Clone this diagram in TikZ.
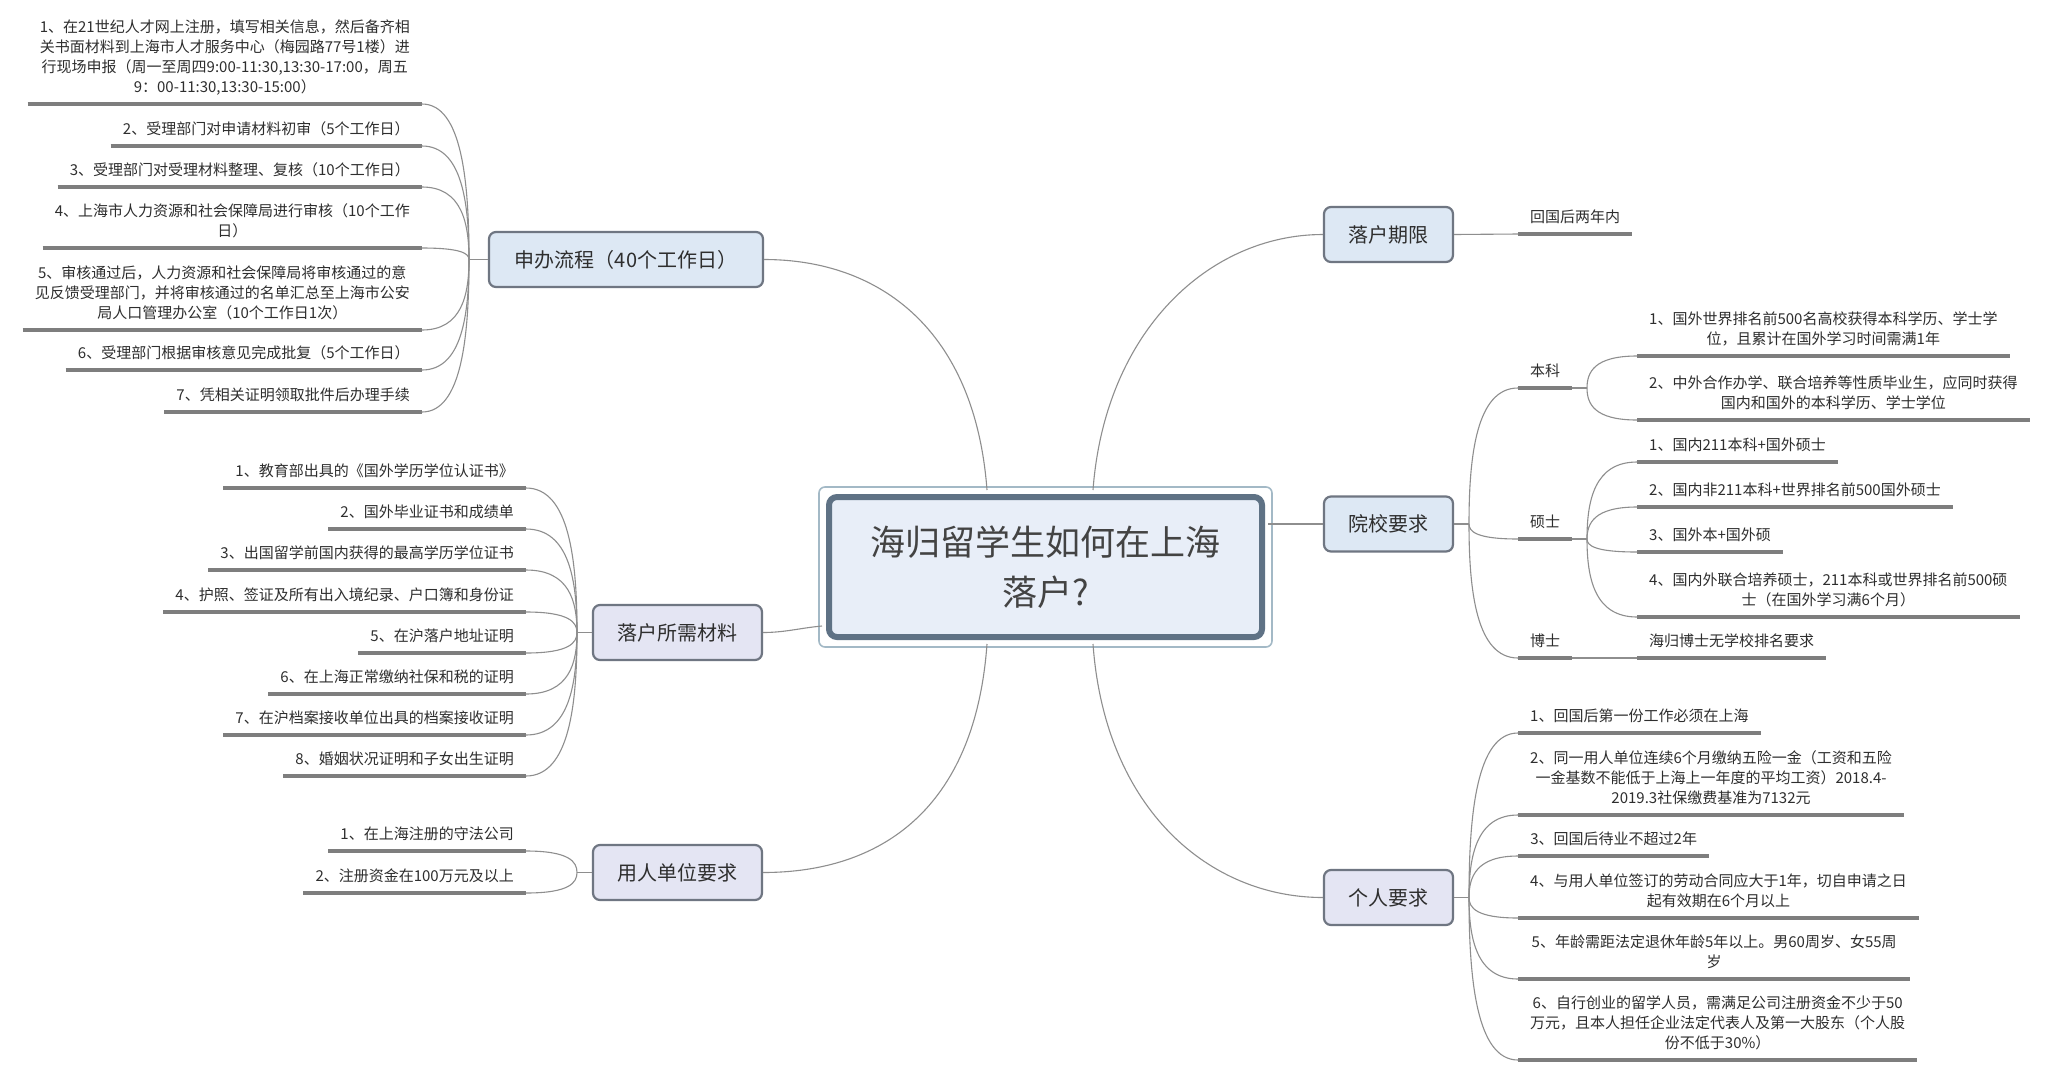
\documentclass[tikz,border=0pt]{standalone}
\usepackage{fontspec}
\setmainfont{Noto Sans CJK SC}
\usetikzlibrary{calc}
\definecolor{txt}{HTML}{2E2E2E}
\definecolor{ulc}{HTML}{7E7E7E}
\definecolor{cnc}{HTML}{8E8E8E}
\definecolor{topicfill}{HTML}{E4E5F3}
\definecolor{topicblue}{HTML}{DDE8F4}
\definecolor{topicdraw}{HTML}{6F7682}
\definecolor{rootfill}{HTML}{E8EEF8}
\definecolor{rootdraw}{HTML}{5F7285}
\definecolor{rootouter}{HTML}{A3B9C6}
\tikzset{
  leaf/.style={inner xsep=12pt, inner ysep=8.5pt, text depth=3pt, align=center,
    font=\fontsize{15}{20}\selectfont, text=txt},
  uline/.style={draw=ulc, line width=4pt},
  conn/.style={draw=cnc, line width=1.1pt},
  topic/.style={draw=topicdraw, line width=2.2pt, fill=topicfill, rounded corners=7pt,
    inner sep=0pt, font=\fontsize{20}{24}\selectfont, text=txt},
  bluetopic/.style={topic, fill=topicblue},
  rootbox/.style={draw=rootdraw, line width=6pt, fill=rootfill, rounded corners=8pt,
    inner sep=0pt, align=center, font=\fontsize{35}{50}\selectfont, text=txt!90!white},
  rootline/.style={draw=rootouter, line width=1.6pt, rounded corners=6pt}
}
\newcommand{\mmleafL}[5]{%
  \pgfmathsetmacro{\mmW}{#3-#2}%
  \node[leaf, minimum width=\mmW pt, anchor=south east] (#1) at (#3,#4) {#5};
  \draw[uline] (#1.south west) -- (#1.south east);}
\newcommand{\mmleafR}[5]{%
  \pgfmathsetmacro{\mmW}{#3-#2}%
  \node[leaf, minimum width=\mmW pt, anchor=south west] (#1) at (#2,#4) {#5};
  \draw[uline] (#1.south west) -- (#1.south east);}
\newcommand{\mmcurve}[2]{%
  \draw[conn] (#1) .. controls ($(#1)!0.85!(#1 -| #2)$) and ($(#2)!0.5!(#2 |- #1)$) .. (#2);}
\begin{document}
\begin{tikzpicture}[x=1pt,y=-1pt]
\fill[white] (0,0) rectangle (2054,1080);
\useasboundingbox (0,0) rectangle (2054,1080);

% root
\node[rootbox, minimum width=433pt, minimum height=140pt] (root) at (1045.5,567) {海归留学生如何在上海\\落户?};
\draw[rootline] ($(root.north west)+(-7,-7)$) rectangle ($(root.south east)+(7,7)$);

% main topics
\node[bluetopic, minimum width=274pt, minimum height=55pt] (sb) at (626,259.5) {申办流程（40个工作日）};
\node[topic, minimum width=169pt, minimum height=55pt] (cl) at (677.5,632.5) {落户所需材料};
\node[topic, minimum width=169pt, minimum height=55pt] (yr) at (677.5,872.5) {用人单位要求};
\node[bluetopic, minimum width=129pt, minimum height=55pt] (qx) at (1388.5,234.5) {落户期限};
\node[bluetopic, minimum width=129pt, minimum height=55pt] (yx) at (1388.5,524) {院校要求};
\node[topic, minimum width=129pt, minimum height=55pt] (gr) at (1388.5,897.5) {个人要求};

% root connectors
\coordinate (cTL) at (987,490);
\coordinate (cBL) at (987,644);
\coordinate (cTR) at (1093,490);
\coordinate (cBR) at (1093,644);
\coordinate (cL) at (822,626);
\coordinate (cR) at (1268,524);
\draw[conn] (cTL) .. controls (975,330) and (880,259.5) .. (sb.east);
\draw[conn] (cBL) .. controls (975,810) and (880,872.5) .. (yr.east);
\draw[conn] (cTR) .. controls (1105,330) and (1210,234.5) .. (qx.west);
\draw[conn] (cBR) .. controls (1105,810) and (1210,897.5) .. (gr.west);
\draw[conn] (cL) .. controls (800,628) and (785,632.5) .. (cl.east);
\draw[conn] (cR) -- (yx.west);

% junctions
\coordinate (jSB) at (469,259.5);
\coordinate (jCL) at (577,632.5);
\coordinate (jYR) at (577,872.5);
\coordinate (jYX) at (1469,524);
\coordinate (jBK) at (1587,388);
\coordinate (jSS) at (1587,539);
\coordinate (jGR) at (1469,897.5);
\draw[conn] (sb.west) -- (jSB);
\draw[conn] (cl.west) -- (jCL);
\draw[conn] (yr.west) -- (jYR);
\draw[conn] (yx.east) -- (jYX);
\draw[conn] (gr.east) -- (jGR);

% 申办流程
\mmleafL{a1}{33}{422}{104}{1、在21世纪人才网上注册，填写相关信息，然后备齐相\\关书面材料到上海市人才服务中心（梅园路77号1楼）进\\行现场申报（周一至周四9:00-11:30,13:30-17:00，周五\\9：00-11:30,13:30-15:00）}
\mmleafL{a2}{111}{422}{146}{2、受理部门对申请材料初审（5个工作日）}
\mmleafL{a3}{61}{422}{187}{3、受理部门对受理材料整理、复核（10个工作日）}
\mmleafL{a4}{46}{422}{248}{4、上海市人力资源和社会保障局进行审核（10个工作\\日）}
\mmleafL{a5}{24}{422}{330}{5、审核通过后，人力资源和社会保障局将审核通过的意\\见反馈受理部门，并将审核通过的名单汇总至上海市公安\\局人口管理办公室（10个工作日1次）}
\mmleafL{a6}{66}{422}{370}{6、受理部门根据审核意见完成批复（5个工作日）}
\mmleafL{a7}{166}{422}{412}{7、凭相关证明领取批件后办理手续}
\foreach \n in {a1,a2,a3,a4,a5,a6,a7}{\mmcurve{\n.south east}{jSB}}

% 落户所需材料
\mmleafL{b1}{230}{526}{488}{1、教育部出具的《国外学历学位认证书》}
\mmleafL{b2}{329}{526}{529}{2、国外毕业证书和成绩单}
\mmleafL{b3}{209}{526}{570}{3、出国留学前国内获得的最高学历学位证书}
\mmleafL{b4}{164}{526}{612}{4、护照、签证及所有出入境纪录、户口簿和身份证}
\mmleafL{b5}{360}{526}{653}{5、在沪落户地址证明}
\mmleafL{b6}{269}{526}{694}{6、在上海正常缴纳社保和税的证明}
\mmleafL{b7}{226}{526}{735}{7、在沪档案接收单位出具的档案接收证明}
\mmleafL{b8}{287}{526}{776}{8、婚姻状况证明和子女出生证明}
\foreach \n in {b1,b2,b3,b4,b5,b6,b7,b8}{\mmcurve{\n.south east}{jCL}}

% 用人单位要求
\mmleafL{c1}{334}{526}{851}{1、在上海注册的守法公司}
\mmleafL{c2}{307}{526}{893}{2、注册资金在100万元及以上}
\foreach \n in {c1,c2}{\mmcurve{\n.south east}{jYR}}

% 落户期限
\mmleafR{d1}{1518}{1631}{234}{回国后两年内}
\draw[conn] (qx.east) -- (d1.south west);

% 院校要求
\mmleafR{bk}{1518}{1570}{388}{本科}
\mmleafR{ss}{1518}{1570}{539}{硕士}
\mmleafR{bs}{1518}{1570}{658}{博士}
\foreach \n in {bk,ss,bs}{\mmcurve{\n.south west}{jYX}}
\draw[conn] (bk.south east) -- (jBK);
\draw[conn] (ss.south east) -- (jSS);

\mmleafR{e1}{1637}{2006}{356}{1、国外世界排名前500名高校获得本科学历、学士学\\位，且累计在国外学习时间需满1年}
\mmleafR{e2}{1637}{2028}{420}{2、中外合作办学、联合培养等性质毕业生，应同时获得\\国内和国外的本科学历、学士学位}
\foreach \n in {e1,e2}{\mmcurve{\n.south west}{jBK}}

\mmleafR{f1}{1637}{1827}{462}{1、国内211本科+国外硕士}
\mmleafR{f2}{1637}{1948}{507}{2、国内非211本科+世界排名前500国外硕士}
\mmleafR{f3}{1637}{1781}{552}{3、国外本+国外硕}
\mmleafR{f4}{1637}{2015}{617}{4、国内外联合培养硕士，211本科或世界排名前500硕\\士（在国外学习满6个月）}
\foreach \n in {f1,f2,f3,f4}{\mmcurve{\n.south west}{jSS}}

\mmleafR{g1}{1637}{1823}{658}{海归博士无学校排名要求}
\draw[conn] (bs.south east) -- (g1.south west);

% 个人要求
\mmleafR{h1}{1518}{1754}{733}{1、回国后第一份工作必须在上海}
\mmleafR{h2}{1518}{1903}{815}{2、同一用人单位连续6个月缴纳五险一金（工资和五险\\一金基数不能低于上海上一年度的平均工资）2018.4-\\2019.3社保缴费基准为7132元}
\mmleafR{h3}{1518}{1709}{856}{3、回国后待业不超过2年}
\mmleafR{h4}{1518}{1915}{918}{4、与用人单位签订的劳动合同应大于1年，切自申请之日\\起有效期在6个月以上}
\mmleafR{h5}{1518}{1910}{979}{5、年龄需距法定退休年龄5年以上。男60周岁、女55周\\岁}
\mmleafR{h6}{1518}{1915}{1060}{6、自行创业的留学人员，需满足公司注册资金不少于50\\万元，且本人担任企业法定代表人及第一大股东（个人股\\份不低于30\%）}
\foreach \n in {h1,h2,h3,h4,h5,h6}{\mmcurve{\n.south west}{jGR}}
\end{tikzpicture}
\end{document}
